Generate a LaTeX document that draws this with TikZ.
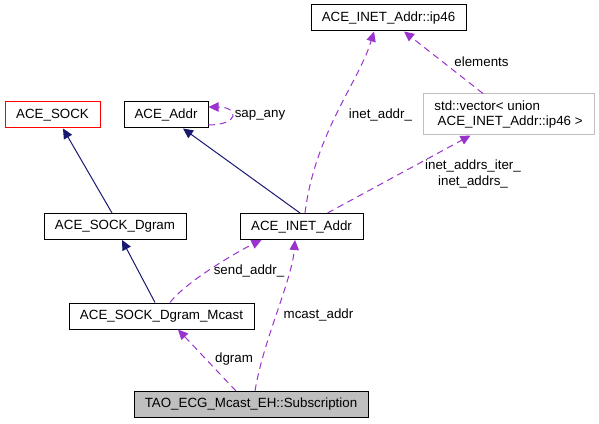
\documentclass[tikz,border=0pt]{standalone}
\usepackage{fontspec}
\setmainfont{Liberation Sans}
\usepackage{tikz}
\usetikzlibrary{arrows.meta}

\definecolor{navy}{HTML}{191970}
\definecolor{orchid}{HTML}{9A32CD}
\definecolor{grau}{HTML}{BFBFBF}

\tikzset{
  klasse/.style={draw=black, line width=0.75pt, inner sep=0pt, minimum height=19.5pt, font=\fontsize{10}{11.5}\selectfont},
  rolle/.style={inner sep=0pt, font=\fontsize{10}{11.5}\selectfont},
  erbt/.style={draw=navy, line width=0.75pt, -{Triangle[length=7.5pt,width=7pt,fill=navy]}},
  nutzt/.style={draw=orchid, line width=0.75pt, dash pattern=on 5pt off 3.5pt, -{Triangle[length=7.5pt,width=7pt,fill=orchid]}}
}

\begin{document}
\begin{tikzpicture}[x=0.75pt,y=-0.75pt]
\useasboundingbox (0,0) rectangle (599,424);

\node[klasse,minimum width=116.25pt] at (388.5,18) (ip46) {ACE\_INET\_Addr::ip46};
\node[klasse,draw=grau,minimum width=128.25pt,minimum height=30.75pt,align=left] at (508.5,114.5) (vektor) {std::vector< union\\\hspace*{2.5pt}ACE\_INET\_Addr::ip46 >};
\node[klasse,draw=red,minimum width=71.25pt] at (52.5,115) (sock) {ACE\_SOCK};
\node[klasse,minimum width=63pt] at (166,115) (addr) {ACE\_Addr};
\node[klasse,minimum width=106.5pt] at (115,226.5) (dgram) {ACE\_SOCK\_Dgram};
\node[klasse,minimum width=92.25pt] at (301.5,226.5) (inet) {ACE\_INET\_Addr};
\node[klasse,minimum width=138.75pt] at (161.5,316) (mcast) {ACE\_SOCK\_Dgram\_Mcast};
\node[klasse,fill=grau,minimum width=175.5pt] at (251,404.5) (sub) {TAO\_ECG\_Mcast\_EH::Subscription};

% Vererbung
\draw[erbt] ([shift={(-3,0)}]dgram.north) -- ([shift={(10.5,0)}]sock.south);
\draw[erbt] ([shift={(-1.5,0)}]inet.north) -- ([shift={(17,0)}]addr.south);
\draw[erbt] ([shift={(-6.5,0)}]mcast.north) -- ([shift={(7,0)}]dgram.south);

% Benutzung
\draw[nutzt] ([shift={(0,10)}]addr.east) .. controls +(31,0) and +(31,0) .. ([shift={(0,-8)}]addr.east);
\node[rolle] at (260,115) (l1) {sap\_any};

\draw[nutzt] ([shift={(-15,0)}]sub.north) -- ([shift={(16.5,0)}]mcast.south);
\node[rolle] at (234,359) (l2) {dgram};

\draw[nutzt] ([shift={(4,0)}]sub.north) .. controls +(8,-50) and +(-3,40) .. ([shift={(-6.5,0)}]inet.south);
\node[rolle] at (318.5,315) (l3) {mcast\_addr};

\draw[nutzt] ([shift={(8.5,0)}]mcast.north) .. controls +(15,-20) and +(-25,12) .. ([shift={(-40,0)}]inet.south);
\node[rolle] at (249,271) (l4) {send\_addr\_};

\draw[nutzt] ([shift={(3.5,0)}]inet.north) .. controls +(10,-80) and +(-15,50) .. ([shift={(-14.5,0)}]ip46.south);
\node[rolle] at (380.5,115) (l5) {inet\_addr\_};

\draw[nutzt] ([shift={(26,0)}]inet.north) -- ([shift={(-38,0)}]vektor.south);
\node[rolle,align=center] at (473,174) (l6) {inet\_addrs\_iter\_\\inet\_addrs\_};

\draw[nutzt] ([shift={(-25.5,0)}]vektor.north) -- ([shift={(15.5,0)}]ip46.south);
\node[rolle] at (481.5,62) (l7) {elements};

\end{tikzpicture}
\end{document}
